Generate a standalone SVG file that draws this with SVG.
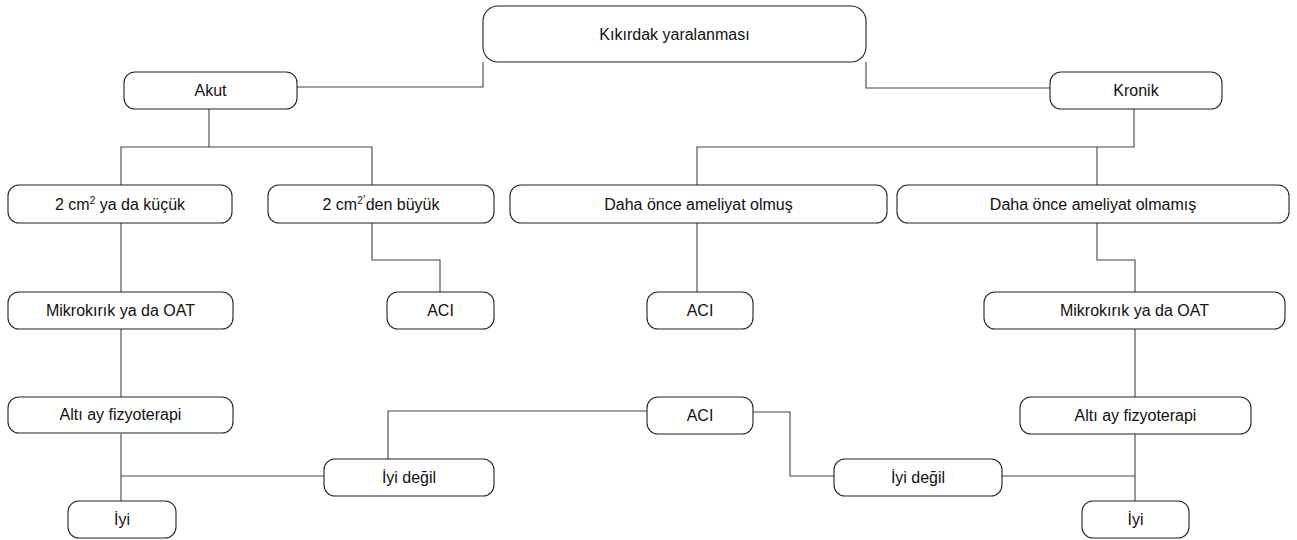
<svg xmlns="http://www.w3.org/2000/svg" width="1297" height="540" viewBox="0 0 1297 540">
<style>
.box{fill:#fff;stroke:#222;stroke-width:1.1}
.lbl{font-family:"Liberation Sans",Arial,sans-serif;font-size:16px;fill:#111;text-anchor:middle}
.sup{font-size:10px}
.con{fill:none;stroke:#444;stroke-width:1.1}
</style>
<rect width="1297" height="540" fill="#fff"/>
<g id="connectors">
<path class="con" d="M483,62 V87 H297"/>
<path class="con" d="M866,62 V88 H1050"/>
<path class="con" d="M209,109 V147 M121,185 V147 H372 V185"/>
<path class="con" d="M1134,109 V147 H697 V185 M1097,147 V185"/>
<path class="con" d="M121,223 V292"/>
<path class="con" d="M372,223 V260 H440 V292"/>
<path class="con" d="M697,223 V292"/>
<path class="con" d="M1097,223 V260 H1135 V292"/>
<path class="con" d="M121,329 V397"/>
<path class="con" d="M1135,329 V397"/>
<path class="con" d="M121,434 V501 M121,476 H324"/>
<path class="con" d="M1135,434 V501 M1002,476 H1135"/>
<path class="con" d="M647,411 H388 V459"/>
<path class="con" d="M753,412 H790 V476 H834"/>
</g>
<g id="n-root"><rect class="box" x="483" y="6" width="383" height="56" rx="15"/><text class="lbl" x="674.5" y="40">Kıkırdak yaralanması</text></g>
<g id="n-akut"><rect class="box" x="124" y="72" width="173" height="37" rx="11"/><text class="lbl" x="210.5" y="96">Akut</text></g>
<g id="n-kronik"><rect class="box" x="1050" y="72" width="172" height="37" rx="11"/><text class="lbl" x="1136" y="96">Kronik</text></g>
<g id="n-kucuk"><rect class="box" x="8" y="185" width="224" height="38" rx="11"/><text class="lbl" x="120" y="210">2 cm<tspan class="sup" dy="-6">2</tspan><tspan dy="6"> ya da küçük</tspan></text></g>
<g id="n-buyuk"><rect class="box" x="268" y="185" width="226" height="38" rx="11"/><text class="lbl" x="381" y="210">2 cm<tspan class="sup" dy="-6">2</tspan><tspan font-size="13">’</tspan><tspan dy="6">den büyük</tspan></text></g>
<g id="n-olmus"><rect class="box" x="510" y="185" width="377" height="38" rx="11"/><text class="lbl" x="698.5" y="210">Daha önce ameliyat olmuş</text></g>
<g id="n-olmamis"><rect class="box" x="897" y="185" width="392" height="38" rx="11"/><text class="lbl" x="1093" y="210">Daha önce ameliyat olmamış</text></g>
<g id="n-mikro-l"><rect class="box" x="8" y="292" width="225" height="37" rx="11"/><text class="lbl" x="120.5" y="316">Mikrokırık ya da OAT</text></g>
<g id="n-aci-1"><rect class="box" x="387" y="292" width="107" height="37" rx="11"/><text class="lbl" x="440.5" y="316">ACI</text></g>
<g id="n-aci-2"><rect class="box" x="647" y="292" width="106" height="37" rx="11"/><text class="lbl" x="700" y="316">ACI</text></g>
<g id="n-mikro-r"><rect class="box" x="984" y="292" width="301" height="37" rx="11"/><text class="lbl" x="1134.5" y="316">Mikrokırık ya da OAT</text></g>
<g id="n-alti-l"><rect class="box" x="8" y="397" width="225" height="36" rx="11"/><text class="lbl" x="120.5" y="420">Altı ay fizyoterapi</text></g>
<g id="n-aci-3"><rect class="box" x="647" y="397" width="106" height="37" rx="11"/><text class="lbl" x="700" y="421">ACI</text></g>
<g id="n-alti-r"><rect class="box" x="1020" y="397" width="231" height="37" rx="11"/><text class="lbl" x="1135.5" y="421">Altı ay fizyoterapi</text></g>
<g id="n-iyidegil-l"><rect class="box" x="324" y="459" width="170" height="37" rx="11"/><text class="lbl" x="409" y="483">İyi değil</text></g>
<g id="n-iyidegil-r"><rect class="box" x="834" y="459" width="168" height="37" rx="11"/><text class="lbl" x="918" y="483">İyi değil</text></g>
<g id="n-iyi-l"><rect class="box" x="68" y="501" width="108" height="37" rx="11"/><text class="lbl" x="122" y="525">İyi</text></g>
<g id="n-iyi-r"><rect class="box" x="1082" y="501" width="107" height="37" rx="11"/><text class="lbl" x="1135.5" y="525">İyi</text></g>
</svg>
